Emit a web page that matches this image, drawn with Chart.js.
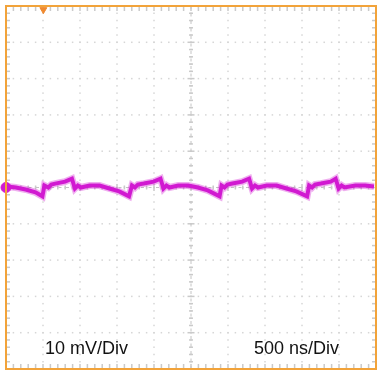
<!DOCTYPE html>
<html>
<head>
<meta charset="utf-8">
<script src="https://cdn.jsdelivr.net/npm/chart.js@4/dist/chart.umd.min.js"></script>
<style>
  html, body { margin: 0; padding: 0; background: #fff; }
  #wrap { width: 382px; height: 375px; }
</style>
</head>
<body>
<div id="wrap"><canvas id="scope" width="382" height="375"></canvas></div>
<script>
// Output ripple trace read from the scope shot (time in ns, ripple in mV)
const timeNs = [13, 133, 266, 399, 492, 519, 572, 612, 665, 798, 891, 931, 971, 1011, 1130, 1264, 1397, 1530, 1663,
    1702, 1742, 1782, 1862, 1995, 2088, 2128, 2168, 2208, 2328, 2461, 2594, 2727, 2886,
    2913, 2953, 2993, 3059, 3192, 3285, 3325, 3365, 3405, 3524, 3657, 3790, 3923, 4069,
    4096, 4136, 4176, 4255, 4388, 4455, 4495, 4535, 4574, 4721, 4854, 4973];
const rippleMv = [0.27, 0, -0.54, -1.34, -2.42, 0.54, 0, 0.81, 1.08, 1.61, 2.42, -0.27, 0.54, 0, 0.54, 0.54, -0.27, -1.08, -2.42,
    0.54, 0, 0.81, 1.08, 1.61, 2.42, -0.27, 0.54, 0, 0.54, 0.54, 0, -0.81, -2.42,
    0.54, 0, 0.81, 1.08, 1.61, 2.42, -0.27, 0.54, 0, 0.54, 0.54, -0.27, -1.08, -2.42,
    0.54, 0, 0.81, 1.08, 1.61, 2.42, -0.27, 0.54, 0, 0.54, 0.54, 0.27];

// channel ground marker and trigger marker
const groundTime = [0];
const groundLevel = [0];
const triggerTime = [505];
const triggerLevel = [49];

// axis settings: 10 divisions each way
const timeRange = [0, 5000];
const voltRange = [-50, 50];
const timePerDiv = 500;
const voltPerDiv = 10;
const voltLabel = '10 mV/Div';
const timeLabel = '500 ns/Div';

const traceColor = '#d21ad2';
const frameColor = '#f2a33a';

const toPoints = (xs, ys) => xs.map((x, i) => ({ x: x, y: ys[i] }));

// dotted graticule, center cross with ticks, and edge ticks
const graticule = {
    id: 'graticule',
    beforeDatasetsDraw(chart) {
        const { ctx, chartArea: a, scales } = chart;
        const xs = scales.x, ys = scales.y;
        ctx.save();
        const sub = 5;
        // grid dots
        ctx.fillStyle = '#d6d6d6';
        for (let t = timeRange[0]; t <= timeRange[1]; t += timePerDiv) {
            const px = xs.getPixelForValue(t);
            for (let v = voltRange[0]; v <= voltRange[1] + 0.001; v += voltPerDiv / sub) {
                const py = ys.getPixelForValue(v);
                ctx.fillRect(px - 0.75, py - 0.75, 1.5, 1.5);
            }
        }
        for (let v = voltRange[0]; v <= voltRange[1]; v += voltPerDiv) {
            const py = ys.getPixelForValue(v);
            for (let t = timeRange[0]; t <= timeRange[1] + 0.001; t += timePerDiv / sub) {
                const px = xs.getPixelForValue(t);
                ctx.fillRect(px - 0.75, py - 0.75, 1.5, 1.5);
            }
        }
        // center cross
        const cx = xs.getPixelForValue((timeRange[0] + timeRange[1]) / 2);
        const cy = ys.getPixelForValue(0);
        ctx.strokeStyle = '#c4c4c4';
        ctx.lineWidth = 1;
        ctx.setLineDash([3, 4.5]);
        ctx.beginPath();
        ctx.moveTo(cx, a.top); ctx.lineTo(cx, a.bottom);
        ctx.moveTo(a.left, cy); ctx.lineTo(a.right, cy);
        ctx.stroke();
        ctx.setLineDash([]);
        ctx.fillStyle = '#cacaca';
        for (let v = voltRange[0]; v <= voltRange[1] + 0.001; v += voltPerDiv / sub) {
            const py = ys.getPixelForValue(v);
            const major = Math.abs(v / voltPerDiv - Math.round(v / voltPerDiv)) < 0.01;
            const w = major ? 7 : 4;
            ctx.fillRect(cx - w / 2, py - 0.75, w, 1.5);
            ctx.fillRect(a.left, py - 0.75, 4, 1.5);
            ctx.fillRect(a.right - 4, py - 0.75, 4, 1.5);
        }
        for (let t = timeRange[0]; t <= timeRange[1] + 0.001; t += timePerDiv / sub) {
            const px = xs.getPixelForValue(t);
            const major = Math.abs(t / timePerDiv - Math.round(t / timePerDiv)) < 0.01;
            const h = major ? 7 : 4;
            ctx.fillRect(px - 0.75, cy - h / 2, 1.5, h);
            ctx.fillRect(px - 0.75, a.top, 1.5, 5);
            ctx.fillRect(px - 0.75, a.bottom - 5, 1.5, 5);
        }
        ctx.restore();
    },
    afterDraw(chart) {
        const { ctx, chartArea: a } = chart;
        ctx.save();
        // scale labels
        ctx.fillStyle = '#111';
        ctx.font = '18px "Liberation Sans", Arial, sans-serif';
        ctx.textBaseline = 'alphabetic';
        ctx.fillText(voltLabel, a.left + 39, a.bottom - 15);
        ctx.fillText(timeLabel, a.left + 248, a.bottom - 15);
        // frame
        ctx.strokeStyle = frameColor;
        ctx.lineWidth = 2;
        ctx.strokeRect(a.left, a.top, a.right - a.left, a.bottom - a.top);
        ctx.restore();
    }
};

new Chart(document.getElementById('scope'), {
    type: 'line',
    data: {
        datasets: [
            {
                data: toPoints(timeNs, rippleMv),
                borderColor: 'rgba(210, 26, 210, 0.35)',
                borderWidth: 7,
                pointRadius: 0,
                tension: 0
            },
            {
                data: toPoints(timeNs, rippleMv),
                borderColor: traceColor,
                borderWidth: 4,
                pointRadius: 0,
                tension: 0
            },
            {
                data: toPoints(groundTime, groundLevel),
                showLine: false,
                pointRadius: 5,
                pointBackgroundColor: traceColor,
                pointBorderColor: traceColor
            },
            {
                data: toPoints(triggerTime, triggerLevel),
                showLine: false,
                pointStyle: 'triangle',
                rotation: 180,
                pointRadius: 4,
                pointBackgroundColor: '#f08a30',
                pointBorderColor: '#f08a30'
            }
        ]
    },
    options: {
        responsive: false,
        animation: false,
        devicePixelRatio: 1,
        layout: { padding: { left: 5, right: 1, top: 1, bottom: 3 } },
        clip: false,
        plugins: { legend: { display: false }, tooltip: { enabled: false } },
        scales: {
            x: { type: 'linear', min: timeRange[0], max: timeRange[1], display: false },
            y: { min: voltRange[0], max: voltRange[1], display: false }
        }
    },
    plugins: [graticule]
});
</script>
</body>
</html>
